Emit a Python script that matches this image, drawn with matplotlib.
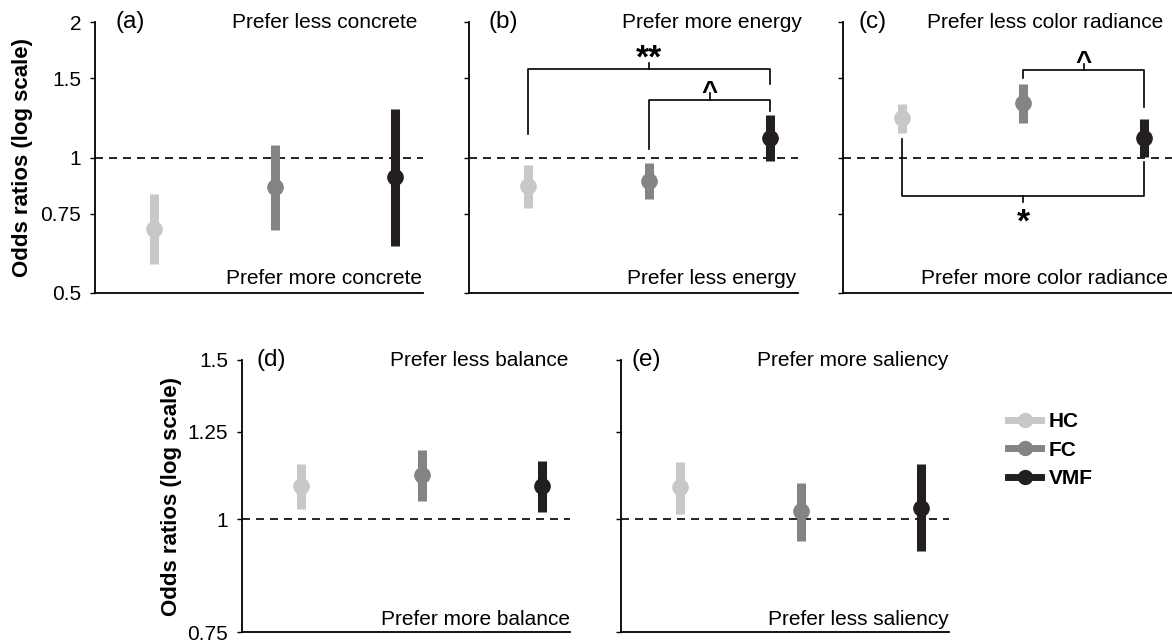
import numpy as np
import matplotlib
matplotlib.use('Agg')
import matplotlib.pyplot as plt
from matplotlib.lines import Line2D

plt.rcParams['font.family'] = ['Liberation Sans', 'DejaVu Sans']

groups = ['HC', 'FC', 'VMF']
colors = ['#c8c8c8', '#848484', '#231f20']

panel_tags = ['(a)', '(b)', '(c)', '(d)', '(e)']
top_text = ['Prefer less concrete', 'Prefer more energy', 'Prefer less color radiance',
            'Prefer less balance', 'Prefer more saliency']
bottom_text = ['Prefer more concrete', 'Prefer less energy', 'Prefer more color radiance',
               'Prefer more balance', 'Prefer less saliency']

# odds ratios and CI bounds, order HC, FC, VMF
or_a = [0.694, 0.858, 0.903]
lo_a = [0.581, 0.691, 0.635]
hi_a = [0.830, 1.067, 1.280]

or_b = [0.866, 0.885, 1.107]
lo_b = [0.773, 0.807, 0.982]
hi_b = [0.963, 0.973, 1.243]

or_c = [1.223, 1.323, 1.107]
lo_c = [1.136, 1.195, 1.005]
hi_c = [1.313, 1.454, 1.220]

or_d = [1.089, 1.118, 1.089]
lo_d = [1.027, 1.046, 1.017]
hi_d = [1.151, 1.193, 1.161]

or_e = [1.084, 1.020, 1.028]
lo_e = [1.013, 0.946, 0.921]
hi_e = [1.158, 1.096, 1.151]

odds = [or_a, or_b, or_c, or_d, or_e]
lows = [lo_a, lo_b, lo_c, lo_d, lo_e]
highs = [hi_a, hi_b, hi_c, hi_d, hi_e]

# significance brackets: panel, group i, group j, bar level, leg end i, leg end j, label
brackets = [
    (1, 0, 2, 1.569, 1.130, 1.458, '**'),
    (1, 1, 2, 1.342, 1.044, 1.268, '^'),
    (2, 1, 2, 1.561, 1.499, 1.295, '^'),
    (2, 0, 2, 0.823, 1.098, 0.975, '*'),
]

fig = plt.figure(figsize=(11.72, 6.42), dpi=100)

W, H = 1172.0, 642.0
pos = [
    (95, 22, 328, 271),
    (469, 22, 329, 271),
    (843, 22, 329, 271),
    (242, 360, 328, 272),
    (621, 360, 328, 272),
]
tag_x = [0.061, 0.058, 0.046, 0.045, 0.033]
top_x = [0.982, 1.011, 0.973, 0.995, 0.998]
bot_x = [0.996, 0.996, 0.988, 1.0, 1.0]
bot_y = [0.052, 0.052, 0.052, 0.047, 0.047]

xs = np.arange(1, 4)
axes = []
for k, (px, py, pw, ph) in enumerate(pos):
    ax = fig.add_axes([px / W, 1 - (py + ph) / H, pw / W, ph / H])
    axes.append(ax)
    ax.set_yscale('log')
    if k < 3:
        ticks = [0.5, 0.75, 1, 1.5, 2]
        ax.set_ylim(0.5, 2)
    else:
        ticks = [0.75, 1, 1.25, 1.5]
        ax.set_ylim(0.75, 1.5)
    ax.set_xlim(0.51, 3.23)
    ax.set_yticks(ticks)
    ax.minorticks_off()
    if k in (0, 3):
        ax.set_yticklabels([('%g' % t) for t in ticks])
        ax.set_ylabel('Odds ratios (log scale)', fontsize=16, fontweight='bold')
        ax.yaxis.set_label_coords(-0.189 if k == 0 else -0.183, 0.5)
    else:
        ax.set_yticklabels([])
    ax.set_xticks([])
    ax.tick_params(axis='y', labelsize=15, length=3.5, width=1, direction='out', pad=6.5)
    for s in ['top', 'right']:
        ax.spines[s].set_visible(False)
    for s in ['left', 'bottom']:
        ax.spines[s].set_linewidth(1.3)

    ax.axhline(1, color='black', lw=1.2, linestyle=(0, (4.8, 3.6)), zorder=1)

    for i in range(3):
        ax.plot([xs[i], xs[i]], [lows[k][i], highs[k][i]], color=colors[i], lw=6.5,
                solid_capstyle='butt', zorder=3)
        ax.plot(xs[i], odds[k][i], 'o', color=colors[i], ms=11, zorder=4)

    ax.text(tag_x[k], 1.0, panel_tags[k], transform=ax.transAxes, fontsize=17.5,
            ha='left', va='center')
    ax.text(top_x[k], 1.0, top_text[k], transform=ax.transAxes, fontsize=15,
            ha='right', va='center')
    ax.text(bot_x[k], bot_y[k], bottom_text[k], transform=ax.transAxes, fontsize=15,
            ha='right', va='center')

for k, i, j, level, end_i, end_j, label in brackets:
    ax = axes[k]
    x1, x2 = xs[i], xs[j]
    xm = (x1 + x2) / 2.0
    ax.plot([x1, x1, x2, x2], [end_i, level, level, end_j], color='black', lw=1.2, zorder=2)
    up = level > 1
    tip = level * 1.035 if up else level / 1.035
    ax.plot([xm, xm], [level, tip], color='black', lw=1.2)
    if label == '^':
        size, dy = 20, 0
    elif up:
        size, dy = 24, 1
    else:
        size, dy = 24, -26
    ax.annotate(label, xy=(xm, level), xytext=(0, dy), textcoords='offset points',
                ha='center', va='baseline', fontsize=size, fontweight='bold')

handles = [Line2D([], [], color=c, lw=5, marker='o', ms=10) for c in colors]
fig.legend(handles, groups, loc='center left', bbox_to_anchor=(1008 / W, 1 - 450 / H),
           frameon=False, handlelength=1.6, handletextpad=0.35, labelspacing=0.45,
           borderpad=0, borderaxespad=0, prop={'size': 15, 'weight': 'bold'})

fig.savefig('out.png', dpi=100)
